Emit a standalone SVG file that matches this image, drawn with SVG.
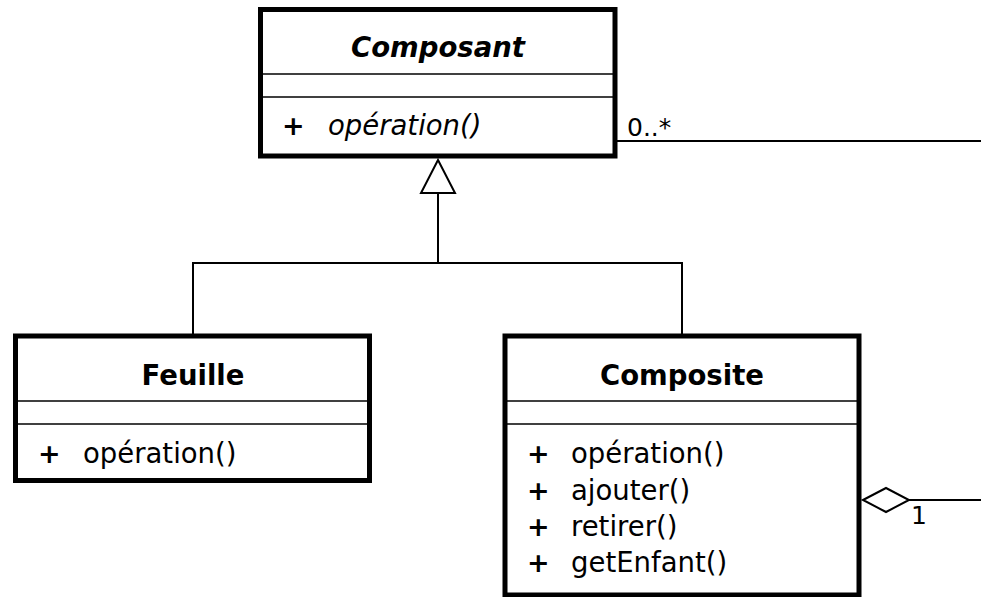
<svg xmlns="http://www.w3.org/2000/svg" width="981" height="597" viewBox="0 0 981 597">
<style>
.box{fill:#fff;stroke:#000;stroke-width:5}
.div{stroke:#000;stroke-width:1.5}
.t{font-family:"DejaVu Sans",sans-serif;fill:#000}
.title{font-size:27.5px;font-weight:bold;text-anchor:middle}
.m{font-size:27.5px}
.plus{font-size:27px;font-weight:bold}
.lab{font-size:25px}
.ln{fill:none;stroke:#000;stroke-width:2}
</style>
<g id="connectors">
<polyline class="ln" points="438,193 438,263"/>
<polyline class="ln" points="193,334 193,263 682,263 682,334"/>
<polygon points="438,160 421,193 455,193" fill="#fff" stroke="#000" stroke-width="2"/>
<line class="ln" x1="617" y1="141" x2="981" y2="141"/>
<line class="ln" x1="909" y1="500" x2="981" y2="500"/>
<polygon points="863,500 886,488 909,500 886,512" fill="#fff" stroke="#000" stroke-width="2"/>
<text class="t lab" x="627" y="136">0..*</text>
<text class="t lab" x="911" y="524">1</text>
</g>
<g id="composant">
<rect class="box" x="260.5" y="9.5" width="354.5" height="146.5"/>
<line class="div" x1="263" y1="74" x2="613" y2="74"/>
<line class="div" x1="263" y1="97" x2="613" y2="97"/>
<text class="t title" x="438" y="57" font-style="italic">Composant</text>
<text class="t plus" x="282" y="135">+</text>
<text class="t m" x="328" y="135" font-style="italic">opération()</text>
</g>
<g id="feuille">
<rect class="box" x="15.5" y="336" width="354" height="144.5"/>
<line class="div" x1="18" y1="401" x2="367" y2="401"/>
<line class="div" x1="18" y1="424" x2="367" y2="424"/>
<text class="t title" x="193" y="385">Feuille</text>
<text class="t plus" x="38" y="463">+</text>
<text class="t m" x="83" y="463">opération()</text>
</g>
<g id="composite">
<rect class="box" x="505" y="336" width="354" height="259"/>
<line class="div" x1="507" y1="401" x2="857" y2="401"/>
<line class="div" x1="507" y1="424" x2="857" y2="424"/>
<text class="t title" x="682" y="385">Composite</text>
<text class="t plus" x="527" y="463">+</text>
<text class="t m" x="571" y="463">opération()</text>
<text class="t plus" x="527" y="500">+</text>
<text class="t m" x="571" y="500">ajouter()</text>
<text class="t plus" x="527" y="536">+</text>
<text class="t m" x="571" y="536">retirer()</text>
<text class="t plus" x="527" y="572">+</text>
<text class="t m" x="571" y="572">getEnfant()</text>
</g>
</svg>
